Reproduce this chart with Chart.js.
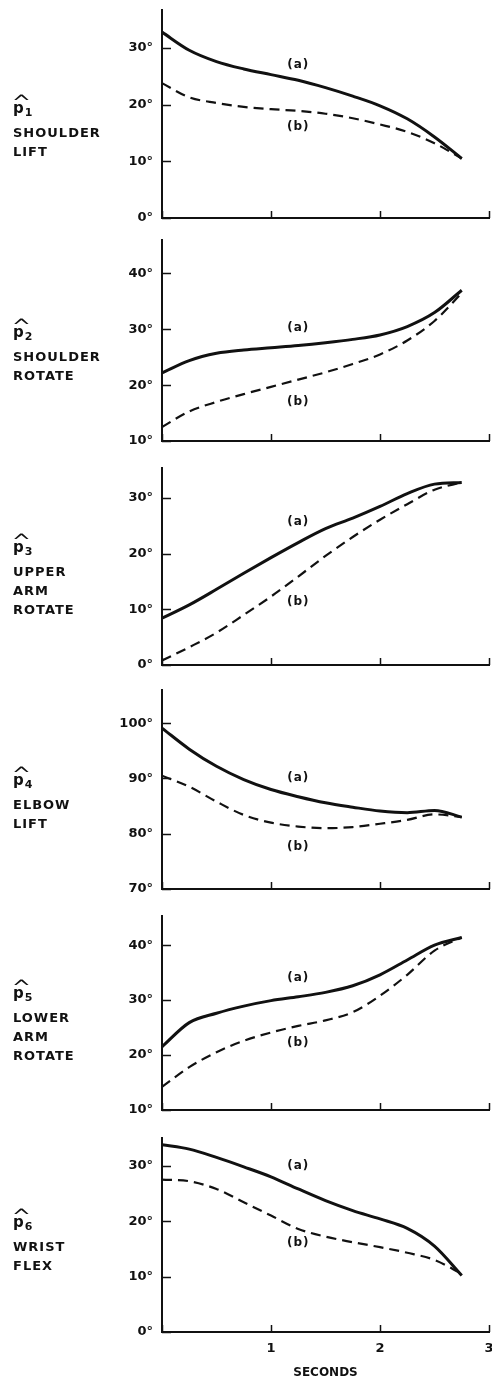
<!DOCTYPE html>
<html>
<head>
<meta charset="utf-8">
<script src="https://cdn.jsdelivr.net/npm/chart.js@4.4.0/dist/chart.umd.min.js"></script>
<style>
  html, body { margin: 0; padding: 0; background: #fff; }
  #wrap { position: relative; width: 492px; height: 1382px; overflow: hidden; }
  #wrap canvas { position: absolute; left: 0; }
  .lab { position: absolute; left: 13px; font-family: "DejaVu Sans"; font-weight: bold; font-size: 13px; line-height: 13px; color: #111; letter-spacing: 1px; white-space: nowrap; }
  .hat { position: absolute; left: 13px; font-family: "DejaVu Sans"; font-size: 20px; line-height: 20px; color: #111; transform: scaleX(1.15); }
  .pv { position: absolute; left: 13px; font-family: "DejaVu Sans"; font-weight: bold; font-size: 15px; line-height: 15px; color: #111; }
  .pv sub { font-size: 11px; vertical-align: -3px; margin-left: 1px; }
</style>
</head>
<body>
<div id="wrap"></div>
<script>
// time axis (seconds)
const seconds = [0, 0.25, 0.5, 0.75, 1.0, 1.25, 1.5, 1.75, 2.0, 2.25, 2.5, 2.75];

// joint angles in degrees, (a) solid and (b) dashed
const p1a = [32.8, 29.6, 27.6, 26.3, 25.3, 24.3, 23.0, 21.5, 19.8, 17.5, 14.3, 10.5];
const p1b = [23.8, 21.3, 20.3, 19.6, 19.2, 18.9, 18.4, 17.6, 16.5, 15.2, 13.2, 10.5];
const p2a = [22.2, 24.4, 25.7, 26.3, 26.7, 27.1, 27.6, 28.2, 29.0, 30.5, 33.0, 37.0];
const p2b = [12.5, 15.3, 17.0, 18.4, 19.7, 21.0, 22.3, 23.8, 25.5, 28.0, 31.5, 36.5];
const p3a = [8.4, 10.8, 13.6, 16.5, 19.3, 22.0, 24.5, 26.4, 28.5, 30.8, 32.5, 32.8];
const p3b = [0.8, 3.2, 5.8, 9.0, 12.3, 15.9, 19.6, 23.0, 26.1, 28.9, 31.5, 32.8];
const p4a = [99.1, 95.3, 92.2, 89.8, 88.0, 86.7, 85.6, 84.8, 84.1, 83.8, 84.2, 83.0];
const p4b = [90.5, 88.5, 85.8, 83.4, 82.0, 81.3, 81.0, 81.2, 81.8, 82.5, 83.5, 83.0];
const p5a = [21.5, 25.9, 27.6, 28.9, 29.9, 30.6, 31.4, 32.6, 34.6, 37.3, 40.0, 41.4];
const p5b = [14.2, 17.8, 20.5, 22.6, 24.1, 25.3, 26.3, 27.8, 30.8, 34.6, 39.0, 41.4];
const p6a = [33.8, 33.0, 31.5, 29.8, 28.0, 25.8, 23.7, 21.9, 20.4, 18.7, 15.5, 10.2];
const p6b = [27.5, 27.2, 25.8, 23.4, 21.0, 18.6, 17.2, 16.2, 15.3, 14.3, 13.0, 10.5];

const seriesA = [p1a, p2a, p3a, p4a, p5a, p6a];
const seriesB = [p1b, p2b, p3b, p4b, p5b, p6b];

// axis ranges
const yMin = [0, 10, 0, 70, 10, 0];
const yMax = [36.7, 46, 35.4, 106, 45.3, 35];
const xTicks = [0, 1, 2, 3];

// panel names
const panelNames = [
  ['SHOULDER', 'LIFT'],
  ['SHOULDER', 'ROTATE'],
  ['UPPER', 'ARM', 'ROTATE'],
  ['ELBOW', 'LIFT'],
  ['LOWER', 'ARM', 'ROTATE'],
  ['WRIST', 'FLEX']
];

// where the (a) / (b) tags sit, in data units [seconds, degrees]
const tagA = [[1.25, 27.0], [1.25, 30.3], [1.25, 25.7], [1.25, 90.1], [1.25, 34.0], [1.25, 30.0]];
const tagB = [[1.25, 16.0], [1.25, 17.0], [1.25, 11.3], [1.25, 77.6], [1.25, 22.2], [1.25, 16.0]];

// page layout (pixels)
const axisTop = [10, 240, 468, 690, 916, 1138];
const axisBottom = [218, 441, 665, 889, 1110, 1332];
const textTop = [128, 352, 567, 800, 1013, 1242];

const ink = '#111';
const wrap = document.getElementById('wrap');

const curveTags = {
  id: 'curveTags',
  afterDatasetsDraw(chart, args, opts) {
    const { ctx, scales: { x, y } } = chart;
    ctx.save();
    ctx.font = 'bold 12px "DejaVu Sans"';
    ctx.fillStyle = ink;
    ctx.textAlign = 'center';
    ctx.textBaseline = 'middle';
    if ('letterSpacing' in ctx) ctx.letterSpacing = '1px';
    opts.tags.forEach(t => ctx.fillText(t.text, x.getPixelForValue(t.x), y.getPixelForValue(t.y)));
    ctx.restore();
  }
};

// tick marks pointing into the plot
const innerTicks = {
  id: 'innerTicks',
  afterDraw(chart) {
    const { ctx, chartArea: a, scales: { x, y } } = chart;
    ctx.save();
    ctx.strokeStyle = ink;
    ctx.lineWidth = 1.5;
    ctx.beginPath();
    x.ticks.forEach(t => {
      const px = Math.round(x.getPixelForValue(t.value)) + 0.5;
      ctx.moveTo(px, a.bottom);
      ctx.lineTo(px, a.bottom - 7);
    });
    y.ticks.forEach(t => {
      const py = Math.round(y.getPixelForValue(t.value)) + 0.5;
      ctx.moveTo(a.left, py);
      ctx.lineTo(a.left + 9, py);
    });
    ctx.stroke();
    ctx.restore();
  }
};

panelNames.forEach((lines, i) => {
  const last = i === panelNames.length - 1;
  const xh = last ? 1382 - axisBottom[i] : 4;
  const cv = document.createElement('canvas');
  cv.width = 492;
  cv.height = axisBottom[i] - axisTop[i] + 10 + xh;
  cv.style.top = (axisTop[i] - 10) + 'px';
  wrap.appendChild(cv);

  // side label
  const hat = document.createElement('div');
  hat.className = 'hat';
  hat.style.top = (textTop[i] - 36) + 'px';
  hat.textContent = '^';
  wrap.appendChild(hat);
  const pv = document.createElement('div');
  pv.className = 'pv';
  pv.style.top = (textTop[i] - 27) + 'px';
  pv.innerHTML = 'p<sub>' + (i + 1) + '</sub>';
  wrap.appendChild(pv);
  lines.forEach((s, k) => {
    const d = document.createElement('div');
    d.className = 'lab';
    d.style.top = (textTop[i] - 2 + k * 19) + 'px';
    d.textContent = s;
    wrap.appendChild(d);
  });

  new Chart(cv.getContext('2d'), {
    type: 'line',
    data: {
      datasets: [
        {
          label: '(a)',
          data: seconds.map((t, k) => ({ x: t, y: seriesA[i][k] })),
          borderColor: ink, borderWidth: 3, pointRadius: 0,
          cubicInterpolationMode: 'monotone', fill: false
        },
        {
          label: '(b)',
          data: seconds.map((t, k) => ({ x: t, y: seriesB[i][k] })),
          borderColor: ink, borderWidth: 2.2, borderDash: [10, 6], pointRadius: 0,
          cubicInterpolationMode: 'monotone', fill: false
        }
      ]
    },
    options: {
      responsive: false,
      animation: false,
      devicePixelRatio: 1,
      layout: { padding: { top: 10, left: 0, right: 3, bottom: 0 } },
      plugins: {
        legend: { display: false },
        tooltip: { enabled: false },
        curveTags: {
          tags: [
            { text: '(a)', x: tagA[i][0], y: tagA[i][1] },
            { text: '(b)', x: tagB[i][0], y: tagB[i][1] }
          ]
        }
      },
      scales: {
        x: {
          type: 'linear', min: 0, max: 3,
          afterBuildTicks: s => { s.ticks = xTicks.map(v => ({ value: v })); },
          border: { display: true, color: ink, width: 2 },
          grid: { display: false, drawTicks: false },
          ticks: {
            display: last, padding: 9, color: ink, maxRotation: 0, autoSkip: false,
            font: { family: 'DejaVu Sans', size: 13, weight: 'bold' },
            callback: v => v === 0 ? '' : String(v)
          },
          title: {
            display: last, text: 'SECONDS', color: ink,
            font: { family: 'DejaVu Sans', size: 12, weight: 'bold' }, padding: { top: 0, bottom: 2 }
          },
          afterFit: s => { s.height = xh; s.paddingLeft = 0; s.paddingRight = 0; }
        },
        y: {
          min: yMin[i], max: yMax[i],
          border: { display: true, color: ink, width: 2 },
          grid: { display: false, drawTicks: false },
          ticks: {
            stepSize: 10, includeBounds: false, padding: 9, color: ink,
            font: { family: 'DejaVu Sans', size: 13, weight: 'bold' },
            callback: v => v + '°'
          },
          afterFit: s => { s.width = 162; s.paddingTop = 0; s.paddingBottom = 0; }
        }
      }
    },
    plugins: [curveTags, innerTicks]
  });
});
</script>
</body>
</html>
